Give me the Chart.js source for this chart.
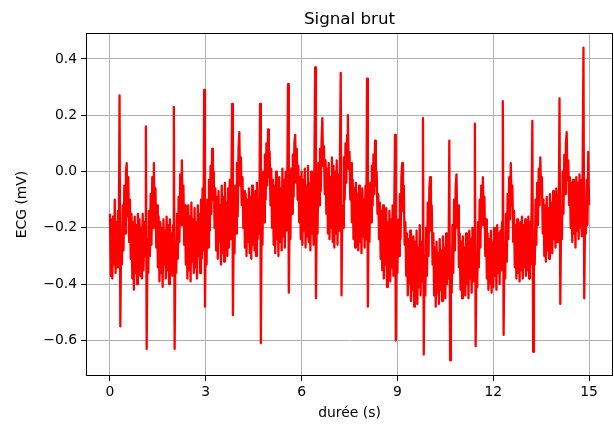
<!DOCTYPE html>
<html lang="fr">
<head>
<meta charset="UTF-8">
<title>Signal brut</title>
<style>
    body { margin: 0; background: #fff; }
    #wrap { width: 614px; height: 424px; }
</style>
</head>
<body>
<div id="wrap"><canvas id="ecgChart" width="614" height="424"></canvas></div>
<script src="https://cdn.jsdelivr.net/npm/chart.js"></script>
<script>
// sampling rate of the trace (samples per second)
const fs = 40;

// ECG samples in mV, 3 s per block
const seg1 = [
    -0.15,-0.37,-0.17,-0.38,-0.16,-0.33,-0.10,-0.36,-0.18,-0.34,
    -0.14,-0.30,0.27,-0.55,-0.22,-0.33,-0.12,-0.28,-0.05,-0.22,
    0.00,0.03,-0.16,-0.02,-0.25,-0.10,-0.31,-0.15,-0.38,-0.18,
    -0.42,-0.16,-0.36,-0.19,-0.40,-0.15,-0.33,-0.17,-0.37,-0.20,
    -0.38,-0.15,-0.35,-0.18,-0.30,0.16,-0.63,-0.24,-0.36,-0.14,
    -0.30,-0.08,-0.26,-0.02,-0.20,0.03,-0.15,-0.06,-0.27,-0.12,
    -0.34,-0.16,-0.39,-0.18,-0.36,-0.20,-0.41,-0.17,-0.33,-0.21,
    -0.38,-0.16,-0.35,-0.19,-0.40,-0.17,-0.34,-0.22,-0.37,-0.19,
    0.23,-0.63,-0.27,-0.36,-0.15,-0.31,-0.09,-0.25,-0.01,-0.19,
    0.04,-0.13,-0.05,-0.26,-0.12,-0.33,-0.14,-0.38,-0.12,-0.35,
    -0.16,-0.39,-0.11,-0.32,-0.17,-0.36,-0.13,-0.34,-0.18,-0.38,
    -0.12,-0.30,-0.15,-0.36,-0.10,-0.31,-0.06,-0.28,0.29,-0.48
];
const seg2 = [
    -0.22,-0.33,-0.10,-0.27,-0.03,-0.21,0.02,-0.15,0.08,-0.10,
    0.00,-0.20,-0.06,-0.28,-0.09,-0.31,-0.07,-0.25,-0.12,-0.33,
    -0.05,-0.29,-0.09,-0.32,-0.04,-0.26,-0.11,-0.30,-0.06,-0.27,
    -0.03,-0.24,-0.08,0.24,-0.51,-0.20,-0.29,-0.05,-0.22,0.03,
    -0.16,0.08,0.14,-0.05,0.05,-0.12,-0.02,-0.20,-0.07,-0.27,
    -0.08,-0.30,-0.10,-0.25,-0.06,-0.29,-0.09,-0.31,-0.05,-0.26,
    -0.11,-0.28,-0.07,-0.30,-0.04,-0.24,-0.10,-0.22,0.24,-0.61,
    -0.15,-0.26,0.00,-0.18,0.06,-0.10,0.10,-0.05,0.15,-0.02,
    0.07,-0.12,0.01,-0.20,-0.03,-0.26,-0.05,-0.29,0.00,-0.24,
    -0.04,-0.30,-0.02,-0.25,-0.06,-0.28,0.01,-0.23,-0.03,-0.27,
    0.00,-0.21,-0.07,0.31,-0.43,-0.16,-0.24,0.01,-0.15,0.06,
    -0.09,0.10,0.13,-0.04,0.08,-0.10,0.02,-0.18,-0.02,-0.24
];
const seg3 = [
    0.00,-0.26,-0.03,-0.21,0.01,-0.27,-0.05,-0.23,0.02,-0.25,
    -0.04,-0.28,0.00,-0.22,-0.06,-0.26,0.01,0.37,-0.45,-0.13,
    -0.22,0.03,-0.12,0.08,-0.07,0.11,0.19,0.02,0.09,-0.08,
    0.04,-0.15,0.01,-0.22,0.03,-0.24,-0.02,-0.20,0.05,-0.25,
    0.02,-0.27,0.00,-0.22,0.04,-0.26,-0.01,-0.21,0.03,0.35,
    -0.44,-0.12,-0.20,0.05,-0.10,0.10,-0.04,0.13,0.20,0.01,
    0.07,-0.10,0.03,-0.18,-0.03,-0.24,-0.06,-0.27,-0.04,-0.22,
    -0.08,-0.28,-0.05,-0.25,-0.09,-0.29,-0.06,-0.23,-0.10,-0.27,
    -0.05,-0.24,0.33,-0.48,-0.16,-0.25,-0.04,-0.18,0.02,-0.12,
    0.06,-0.08,0.11,-0.05,0.00,-0.15,-0.08,-0.24,-0.11,-0.31,
    -0.14,-0.35,-0.12,-0.38,-0.16,-0.33,-0.13,-0.41,-0.18,-0.36,
    -0.14,-0.39,-0.17,-0.34,-0.12,-0.37,-0.15,0.13,-0.60,-0.22
];
const seg4 = [
    -0.36,-0.17,-0.30,-0.08,-0.24,-0.02,0.03,-0.14,-0.05,-0.26,
    -0.18,-0.37,-0.22,-0.44,-0.24,-0.40,-0.21,-0.46,-0.26,-0.42,
    -0.23,-0.48,-0.25,-0.43,-0.21,-0.47,-0.27,-0.41,-0.19,-0.44,
    -0.25,-0.39,0.19,-0.65,-0.30,-0.44,-0.20,-0.37,-0.11,-0.30,
    -0.06,-0.02,-0.21,-0.12,-0.33,-0.22,-0.44,-0.27,-0.48,-0.25,
    -0.43,-0.29,-0.47,-0.24,-0.42,-0.28,-0.46,-0.23,-0.41,-0.27,
    -0.45,-0.22,-0.40,-0.26,-0.38,0.11,-0.67,-0.32,-0.43,-0.19,
    -0.36,-0.10,-0.28,-0.05,-0.01,-0.20,-0.12,-0.34,-0.22,-0.42,
    -0.25,-0.45,-0.23,-0.41,-0.27,-0.44,-0.22,-0.40,-0.26,-0.45,
    -0.21,-0.38,-0.24,-0.43,-0.20,-0.39,-0.25,0.17,-0.62,-0.30,
    -0.41,-0.18,-0.34,-0.10,-0.27,-0.05,-0.19,-0.02,-0.15,-0.09,
    -0.30,-0.17,-0.38,-0.22,-0.42,-0.24,-0.40,-0.21,-0.43,-0.25
];
const seg5 = [
    -0.41,-0.20,-0.37,-0.23,-0.42,-0.19,-0.36,-0.22,-0.40,-0.21,
    -0.35,-0.18,0.25,-0.58,-0.27,-0.38,-0.15,-0.32,-0.08,-0.24,
    -0.02,-0.17,0.03,-0.12,-0.05,-0.25,-0.14,-0.34,-0.19,-0.38,
    -0.17,-0.36,-0.20,-0.39,-0.18,-0.35,-0.16,-0.38,-0.19,-0.34,
    -0.17,-0.37,-0.20,-0.35,-0.16,-0.38,-0.18,-0.33,-0.15,0.18,
    -0.64,-0.27,-0.33,-0.10,-0.26,-0.04,-0.19,0.01,-0.12,0.05,
    -0.08,-0.02,-0.22,-0.10,-0.30,-0.12,-0.32,-0.09,-0.28,-0.13,
    -0.31,-0.08,-0.26,-0.11,-0.29,-0.07,-0.24,-0.10,-0.27,-0.06,
    -0.25,-0.08,-0.22,0.26,-0.47,-0.17,-0.24,0.00,-0.15,0.06,
    -0.08,0.10,0.14,-0.03,0.04,-0.12,-0.02,-0.20,-0.04,-0.25,
    -0.03,-0.22,-0.05,-0.27,-0.02,-0.21,-0.04,-0.24,-0.01,-0.20,
    -0.03,-0.23,0.00,0.44,-0.45,-0.14,-0.22,-0.03,-0.19,0.07,
    -0.12
];

const xTicks = [0, 3, 6, 9, 12, 15];
const yTicks = [-0.6, -0.4, -0.2, 0.0, 0.2, 0.4];
const chartTitle = 'Signal brut';
const xLabel = 'durée (s)';
const yLabel = 'ECG (mV)';

const ecg = seg1.concat(seg2, seg3, seg4, seg5);
const points = ecg.map((v, i) => ({ x: i / fs, y: v }));

const FONT = 'DejaVu Sans';

// matplotlib style frame (all four spines) + title centred on the axes
const framePlugin = {
    id: 'frame',
    afterDraw(chart) {
        const { ctx, chartArea: a } = chart;
        ctx.save();
        ctx.strokeStyle = '#000';
        ctx.lineWidth = 1;
        ctx.strokeRect(Math.round(a.left) + 0.5, Math.round(a.top) + 0.5,
            Math.round(a.right - a.left) - 1, Math.round(a.bottom - a.top) - 1);
        ctx.fillStyle = '#000';
        ctx.font = '16.7px "' + FONT + '"';
        ctx.textAlign = 'center';
        ctx.textBaseline = 'alphabetic';
        ctx.fillText(chartTitle, (a.left + a.right) / 2, a.top - 9);
        ctx.restore();
    }
};

new Chart(document.getElementById('ecgChart'), {
    type: 'line',
    data: {
        datasets: [{
            data: points,
            borderColor: '#ff0000',
            borderWidth: 2.3,
            borderJoinStyle: 'round',
            pointRadius: 0,
            tension: 0,
            fill: false
        }]
    },
    options: {
        responsive: false,
        animation: false,
        events: [],
        layout: { padding: { top: 33, right: 1, left: 0, bottom: 0 } },
        plugins: { legend: { display: false }, tooltip: { enabled: false } },
        scales: {
            x: {
                type: 'linear',
                min: -0.75,
                max: 15.75,
                afterBuildTicks: s => { s.ticks = xTicks.map(v => ({ value: v })); },
                afterFit: s => { s.height = 48; },
                grid: { color: '#b0b0b0', lineWidth: 1, tickColor: '#000', tickLength: 5 },
                border: { display: false },
                ticks: {
                    autoSkip: false, maxRotation: 0, padding: 3, color: '#000',
                    font: { family: FONT, size: 13.9 },
                    callback: v => String(v)
                },
                title: {
                    display: true, text: xLabel, color: '#000',
                    font: { family: FONT, size: 13.9 },
                    padding: { top: 0, bottom: 2 }
                }
            },
            y: {
                min: -0.726,
                max: 0.492,
                afterBuildTicks: s => { s.ticks = yTicks.map(v => ({ value: v })); },
                afterFit: s => { s.width = 86; },
                grid: { color: '#b0b0b0', lineWidth: 1, tickColor: '#000', tickLength: 5 },
                border: { display: false },
                ticks: {
                    autoSkip: false, padding: 4, color: '#000',
                    font: { family: FONT, size: 13.9 },
                    callback: v => v.toFixed(1).replace('-', '\u2212')
                },
                title: {
                    display: true, text: yLabel, color: '#000',
                    font: { family: FONT, size: 13.9 },
                    padding: { top: 14, bottom: 0 }
                }
            }
        }
    },
    plugins: [framePlugin]
});
</script>
</body>
</html>
